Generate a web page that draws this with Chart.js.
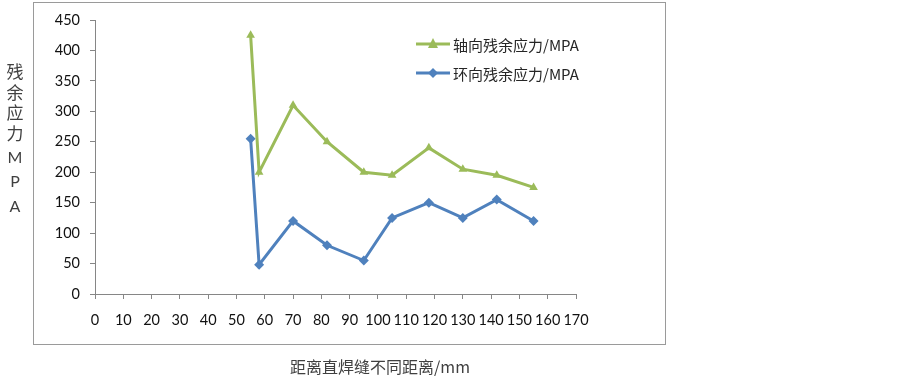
<!DOCTYPE html>
<html>
<head>
<meta charset="utf-8">
<script src="https://cdn.jsdelivr.net/npm/chart.js@4.4.0/dist/chart.umd.min.js"></script>
<style>
  html, body { margin: 0; padding: 0; background: #fff; }
  #wrap { width: 903px; height: 376px; position: relative; }
</style>
</head>
<body>
<div id="wrap"><canvas id="chart"></canvas></div>
<script>
// distance from the weld (mm)
const distances = [55, 58, 70, 82, 95, 105, 118, 130, 142, 155];
// axial residual stress (MPa)
const axialStress = [425, 200, 310, 250, 200, 195, 240, 205, 195, 175];
// hoop residual stress (MPa)
const hoopStress = [255, 48, 120, 80, 55, 125, 150, 125, 155, 120];

const axialLabel = '轴向残余应力/MPA';
const hoopLabel = '环向残余应力/MPA';
const yTitle = ['残', '余', '应', '力', 'M', 'P', 'A'];
const xTitle = '距离直焊缝不同距离/mm';

const green = '#9BBB59';
const blue = '#4F81BD';
const axisGray = '#868686';
const tickFont = { family: 'Lato, "Noto Sans", sans-serif', size: 14.5 };

function toPoints(xs, ys) {
    return xs.map((x, i) => ({ x: x, y: ys[i] }));
}

function drawMarker(ctx, type, x, y, r, color) {
    ctx.save();
    ctx.fillStyle = color;
    ctx.beginPath();
    if (type === 'triangle') {
        ctx.moveTo(x, y - r * 1.2);
        ctx.lineTo(x + r, y + r * 0.8);
        ctx.lineTo(x - r, y + r * 0.8);
    } else {
        ctx.moveTo(x, y - r);
        ctx.lineTo(x + r, y);
        ctx.lineTo(x, y + r);
        ctx.lineTo(x - r, y);
    }
    ctx.closePath();
    ctx.fill();
    ctx.restore();
}

// frame, axis titles and in-plot legend (Excel style)
const decorations = {
    id: 'decorations',
    beforeDraw(chart) {
        const ctx = chart.ctx;
        ctx.save();
        ctx.strokeStyle = '#9a9a9a';
        ctx.lineWidth = 1;
        ctx.strokeRect(33.5, 2.5, 632, 342);
        ctx.restore();
    },
    afterDraw(chart) {
        const ctx = chart.ctx;
        ctx.save();
        // y title, one character per line
        ctx.fillStyle = '#404040';
        ctx.textAlign = 'center';
        ctx.textBaseline = 'middle';
        const ys = [72, 93, 113, 134, 158, 182, 207];
        yTitle.forEach((ch, i) => {
            const latin = /[A-Z]/.test(ch);
            ctx.font = latin ? '16px Lato, sans-serif' : '17px "Noto Sans CJK SC", sans-serif';
            ctx.fillText(ch, 15, ys[i]);
        });
        // x title
        ctx.font = '16px "Noto Sans CJK SC", sans-serif';
        ctx.fillText(xTitle, 380, 367);

        // legend
        const items = [
            { label: axialLabel, color: green, marker: 'triangle', y: 44 },
            { label: hoopLabel, color: blue, marker: 'diamond', y: 73 }
        ];
        items.forEach(it => {
            ctx.strokeStyle = it.color;
            ctx.lineWidth = 3;
            ctx.beginPath();
            ctx.moveTo(416, it.y);
            ctx.lineTo(450, it.y);
            ctx.stroke();
            drawMarker(ctx, it.marker, 433, it.y, 5, it.color);
            ctx.fillStyle = '#262626';
            ctx.textAlign = 'left';
            ctx.font = '15px "Noto Sans CJK SC", sans-serif';
            ctx.fillText(it.label, 453, it.y + 1);
        });
        ctx.restore();
    }
};

const ctx = document.getElementById('chart').getContext('2d');
new Chart(ctx, {
    type: 'scatter',
    data: {
        datasets: [{
            label: axialLabel,
            data: toPoints(distances, axialStress),
            showLine: true,
            borderColor: green,
            backgroundColor: green,
            borderWidth: 3,
            pointStyle: 'triangle',
            pointRadius: 5,
            pointBorderWidth: 0,
            tension: 0
        }, {
            label: hoopLabel,
            data: toPoints(distances, hoopStress),
            showLine: true,
            borderColor: blue,
            backgroundColor: blue,
            borderWidth: 3,
            pointStyle: 'rectRot',
            pointRadius: 5,
            pointBorderWidth: 0,
            tension: 0
        }]
    },
    options: {
        responsive: true,
        maintainAspectRatio: false,
        animation: false,
        layout: { padding: { left: 0, top: 20, right: 327, bottom: 0 } },
        plugins: {
            legend: { display: false },
            tooltip: { enabled: false }
        },
        scales: {
            x: {
                type: 'linear',
                min: 0,
                max: 170,
                afterFit: scale => { scale.height = 82; },
                ticks: { stepSize: 10, padding: 13, color: '#111', font: tickFont, maxRotation: 0 },
                grid: { drawOnChartArea: false, tickLength: 5, color: axisGray },
                border: { color: axisGray }
            },
            y: {
                min: 0,
                max: 450,
                afterFit: scale => { scale.width = 95; },
                ticks: { stepSize: 50, padding: 10, color: '#111', font: tickFont },
                grid: { drawOnChartArea: false, tickLength: 5, color: axisGray },
                border: { color: axisGray }
            }
        }
    },
    plugins: [decorations]
});
</script>
</body>
</html>
